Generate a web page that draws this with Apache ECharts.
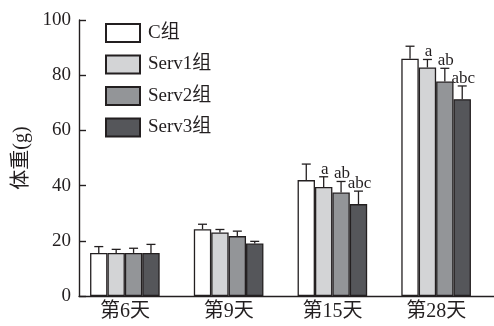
<!DOCTYPE html>
<html>
<head>
<meta charset="utf-8">
<script src="https://cdn.jsdelivr.net/npm/echarts@6/dist/echarts.min.js"></script>
<style>
  html, body { margin: 0; padding: 0; background: #fff; }
  #chart { width: 494px; height: 326px; }
</style>
</head>
<body>
<div id="chart"></div>
<script>
// Body weight (g) of the four groups at each sampling day, mean and SD
const days = ['第6天', '第9天', '第15天', '第28天'];
const groupNames = ['C组', 'Serv1组', 'Serv2组', 'Serv3组'];

const cMean = [15.6, 24.2, 42.0, 86.0];
const cSd = [2.3, 1.8, 5.8, 4.5];
const serv1Mean = [15.6, 23.0, 39.5, 82.8];
const serv1Sd = [1.3, 1.1, 3.7, 2.9];
const serv2Mean = [15.6, 21.7, 37.5, 77.7];
const serv2Sd = [1.7, 1.8, 4.0, 4.8];
const serv3Mean = [15.6, 19.0, 33.3, 71.3];
const serv3Sd = [3.1, 0.8, 4.7, 4.8];

// significance letters printed above the error caps
const cSig = ['', '', '', ''];
const serv1Sig = ['', '', 'a', 'a'];
const serv2Sig = ['', '', 'ab', 'ab'];
const serv3Sig = ['', '', 'abc', 'abc'];

const yMin = 0;
const yMax = 100;
const yStep = 20;

const means = [cMean, serv1Mean, serv2Mean, serv3Mean];
const sds = [cSd, serv1Sd, serv2Sd, serv3Sd];
const sigs = [cSig, serv1Sig, serv2Sig, serv3Sig];
const fills = ['#ffffff', '#d3d4d6', '#939598', '#55565a'];

const INK = '#231f20';
const FONT = '"Liberation Serif", "Times New Roman", "Noto Sans CJK SC", serif';
const BAR_W = 17.4;
const CAP_W = 9;

const chart = echarts.init(document.getElementById('chart'), null, { renderer: 'canvas' });

const barSeries = groupNames.map((name, k) => ({
  name: name,
  type: 'bar',
  xAxisIndex: 1,
  yAxisIndex: 1,
  barWidth: BAR_W,
  barGap: '0%',
  itemStyle: { color: fills[k], borderColor: INK, borderWidth: 1.3 },
  emphasis: { disabled: true },
  data: means[k],
  z: 2
}));

const errSeries = groupNames.map((name, k) => ({
  name: name + '-sd',
  type: 'custom',
  xAxisIndex: 1,
  yAxisIndex: 1,
  z: 3,
  silent: true,
  data: means[k].map((m, i) => [i, m, sds[k][i]]),
  renderItem: function (params, api) {
    const cat = api.value(0);
    const m = api.value(1);
    const sd = api.value(2);
    const base = api.coord([cat, m]);
    const top = api.coord([cat, m + sd]);
    const x = base[0] + (k - 1.5) * BAR_W;
    const style = { stroke: INK, lineWidth: 1.3, fill: null };
    const children = [
      { type: 'line', shape: { x1: x, y1: base[1], x2: x, y2: top[1] }, style: style },
      { type: 'line', shape: { x1: x - CAP_W / 2, y1: top[1], x2: x + CAP_W / 2, y2: top[1] }, style: style }
    ];
    const sig = sigs[k][params.dataIndex];
    if (sig) {
      children.push({
        type: 'text',
        x: x + 1,
        y: top[1] + 1,
        style: {
          text: sig,
          fill: INK,
          font: '17px ' + FONT,
          textAlign: 'center',
          textVerticalAlign: 'bottom'
        }
      });
    }
    return { type: 'group', children: children };
  }
}));

chart.setOption({
  animation: false,
  backgroundColor: '#ffffff',
  textStyle: { fontFamily: FONT, color: INK },
  legend: {
    data: groupNames,
    orient: 'vertical',
    left: 105,
    top: 23,
    padding: 0,
    icon: 'rect',
    itemWidth: 34,
    itemHeight: 18,
    itemGap: 11.5,
    selectedMode: false,
    textStyle: { fontSize: 19, fontFamily: FONT, color: INK, padding: [0, 0, 0, 3] }
  },
  grid: [
    // frame: y axis and baseline
    { left: 79, right: 0, top: 20, bottom: 30 },
    // plotting area for the grouped bars
    { left: 73, right: 6, top: 20, bottom: 30 }
  ],
  xAxis: [
    {
      gridIndex: 0,
      type: 'value',
      min: 0,
      max: 1,
      axisLine: { show: true, lineStyle: { color: INK, width: 1.4 } },
      axisTick: { show: false },
      axisLabel: { show: false },
      splitLine: { show: false }
    },
    {
      gridIndex: 1,
      type: 'category',
      data: days,
      axisLine: { show: false },
      axisTick: { show: false },
      axisLabel: { fontSize: 20, fontFamily: FONT, color: INK, margin: 6 },
      splitLine: { show: false }
    }
  ],
  yAxis: [
    {
      gridIndex: 0,
      type: 'value',
      min: yMin,
      max: yMax,
      interval: yStep,
      name: '体重(g)',
      nameLocation: 'middle',
      nameRotate: 90,
      nameGap: 46,
      nameTextStyle: { fontSize: 20, fontFamily: FONT, color: INK },
      axisLine: { show: true, lineStyle: { color: INK, width: 1.4 } },
      axisTick: { show: true, inside: true, length: 7, lineStyle: { color: INK, width: 1.4 } },
      axisLabel: { fontSize: 19, fontFamily: FONT, color: INK, margin: 8 },
      splitLine: { show: false }
    },
    {
      gridIndex: 1,
      type: 'value',
      min: yMin,
      max: yMax,
      show: false
    }
  ],
  series: barSeries.concat(errSeries)
});
</script>
</body>
</html>
